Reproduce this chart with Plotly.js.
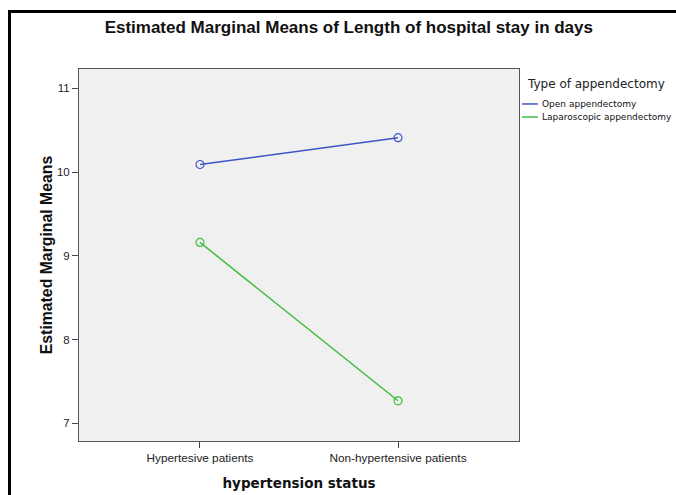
<!DOCTYPE html>
<html>
<head>
<meta charset="utf-8">
<script src="https://cdn.plot.ly/plotly-3.0.1.min.js"></script>
<style>
  html, body { margin: 0; padding: 0; background: #fff; }
  #wrap { position: relative; width: 676px; height: 495px; overflow: hidden; }
  #chart { position: absolute; left: 0; top: 0; width: 676px; height: 495px; }
  #frame { position: absolute; left: 8px; top: 10px; width: 700px; height: 600px;
           border-top: 3px solid #000; border-left: 3px solid #000; pointer-events: none; }
</style>
</head>
<body>
<div id="wrap">
  <div id="chart"></div>
  <div id="frame"></div>
</div>
<script>
const categories = ["Hypertesive patients", "Non-hypertensive patients"];
const seriesNames = ["Open appendectomy", "Laparoscopic appendectomy"];
const openValues = [10.09, 10.41];
const laparoscopicValues = [9.16, 7.27];
const yTicks = [7, 8, 9, 10, 11];
const colors = ["#3f55c7", "#3fbf3f"];

const seriesValues = [openValues, laparoscopicValues];

const traces = seriesValues.map((vals, i) => ({
  type: "scatter",
  mode: "lines+markers",
  x: [0, 1],
  y: vals,
  name: seriesNames[i],
  line: { color: colors[i], width: 1.5 },
  marker: { symbol: "circle-open", size: 8, color: colors[i], line: { width: 1.2, color: colors[i] } },
  showlegend: false,
  hoverinfo: "skip"
}));

const annotations = [
  { text: "Type of appendectomy", xref: "paper", yref: "paper", x: 1.014, y: 0.960,
    xanchor: "left", yanchor: "middle", showarrow: false,
    font: { family: "DejaVu Sans", size: 12, color: "#222" } }
];
const shapes = [];
const legY = [0.906, 0.871];
seriesNames.forEach((n, i) => {
  annotations.push({ text: n, xref: "paper", yref: "paper", x: 1.048, y: legY[i],
    xanchor: "left", yanchor: "middle", showarrow: false,
    font: { family: "DejaVu Sans", size: 9, color: "#111" } });
  shapes.push({ type: "line", xref: "paper", yref: "paper", x0: 1.007, x1: 1.043,
    y0: legY[i], y1: legY[i], line: { color: colors[i], width: 1.5 } });
});

const layout = {
  width: 676, height: 495,
  margin: { l: 79, r: 157, t: 69, b: 54 },
  paper_bgcolor: "#ffffff",
  plot_bgcolor: "#f0f0f0",
  title: { text: "<b>Estimated Marginal Means of Length of hospital stay in days</b>",
           x: 0.516, xanchor: "center", y: 0.945, yanchor: "middle",
           font: { family: "Liberation Sans, Arial", size: 17, color: "#111" } },
  xaxis: {
    range: [-0.611, 1.611],
    tickvals: [0, 1], ticktext: categories,
    ticks: "outside", ticklen: 6, tickcolor: "#444", tickwidth: 1,
    showgrid: false, zeroline: false,
    showline: true, linecolor: "#555", linewidth: 1, mirror: true,
    tickfont: { family: "Liberation Sans, Arial", size: 11.8, color: "#222" },
    title: { text: "<b>hypertension status</b>", standoff: 14,
             font: { family: "DejaVu Sans", size: 13.5, color: "#111" } }
  },
  yaxis: {
    range: [6.79, 11.23],
    tickvals: yTicks,
    ticks: "outside", ticklen: 6, tickcolor: "#444", tickwidth: 1,
    showgrid: false, zeroline: false,
    showline: true, linecolor: "#555", linewidth: 1, mirror: true,
    tickfont: { family: "Liberation Sans, Arial", size: 11.5, color: "#222" },
    title: { text: "<b>Estimated Marginal Means</b>", standoff: 0,
             font: { family: "Liberation Sans, Arial", size: 15.8, color: "#111" } }
  },
  annotations: annotations,
  shapes: shapes,
  showlegend: false
};

Plotly.newPlot("chart", traces, layout, { displayModeBar: false, staticPlot: true });
</script>
</body>
</html>
